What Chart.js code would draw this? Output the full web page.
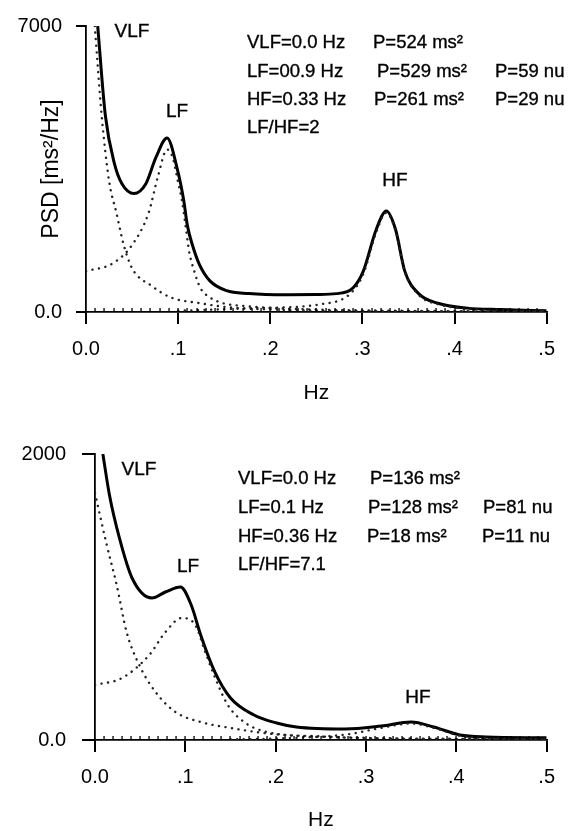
<!DOCTYPE html>
<html>
<head>
<meta charset="utf-8">
<script src="https://cdn.jsdelivr.net/npm/chart.js@4/dist/chart.umd.min.js"></script>
<style>
    body { margin: 0; background: #fff; width: 568px; height: 831px; overflow: hidden; }
    canvas { display: block; }
</style>
</head>
<body>
<canvas id="psdTop" width="568" height="410"></canvas>
<canvas id="psdBottom" width="568" height="421"></canvas>
<script>
// Shared x axis (Hz)
const X_TICKS = [0, 0.1, 0.2, 0.3, 0.4, 0.5];
const X_TICK_LABELS = ['0.0', '.1', '.2', '.3', '.4', '.5'];

// Top spectrum
const topYTicks = [0, 7000];
const topYTickLabels = ['0.0', '7000'];
const topTotalHz = [0.0127, 0.021, 0.031, 0.039, 0.052, 0.065, 0.076, 0.088, 0.0996, 0.106, 0.110, 0.1155, 0.123, 0.1345, 0.1525, 0.177, 0.195, 0.22, 0.25, 0.272, 0.290, 0.301, 0.315, 0.326, 0.336, 0.346, 0.361, 0.382, 0.414, 0.45, 0.5];
const topTotalPsd = [7000, 4810, 3620, 3140, 2900, 3140, 3790, 4260, 3450, 2740, 2120, 1640, 1167, 762, 524, 452, 430, 425, 430, 450, 595, 1000, 2020, 2475, 2020, 1000, 450, 215, 95, 60, 30];
const topVlfHz = [0.0095, 0.017, 0.025, 0.033, 0.041, 0.050, 0.071, 0.092, 0.124, 0.153, 0.2, 0.3, 0.4, 0.5];
const topVlfPsd = [7000, 4810, 3214, 2430, 1640, 1071, 643, 357, 214, 119, 60, 25, 12, 5];
const topLfHz = [0, 0.029, 0.050, 0.068, 0.078, 0.088, 0.094, 0.0996, 0.104, 0.108, 0.112, 0.1175, 0.124, 0.1345, 0.149, 0.17, 0.2, 0.25, 0.3, 0.4, 0.5];
const topLfPsd = [1000, 1190, 1640, 2430, 3310, 3976, 3786, 3214, 2740, 2120, 1476, 1000, 595, 357, 214, 150, 100, 60, 40, 20, 10];
const topHfHz = [0.1, 0.184, 0.255, 0.287, 0.301, 0.315, 0.326, 0.336, 0.346, 0.361, 0.382, 0.414, 0.45, 0.5];
const topHfPsd = [30, 95, 190, 452, 930, 1950, 2430, 1980, 980, 420, 190, 80, 40, 20];

// Bottom spectrum
const botYTicks = [0, 2000];
const botYTickLabels = ['0.0', '2000'];
const botTotalHz = [0.0087, 0.016, 0.027, 0.041, 0.063, 0.078, 0.0946, 0.1065, 0.117, 0.1326, 0.150, 0.176, 0.201, 0.223, 0.277, 0.317, 0.350, 0.375, 0.404, 0.433, 0.5];
const botTotalPsd = [2000, 1713, 1413, 1133, 993, 1035, 1070, 944, 734, 476, 294, 175, 119, 91, 77, 98, 126, 91, 35, 21, 15];
const botVlfHz = [0, 0.013, 0.024, 0.035, 0.049, 0.067, 0.089, 0.117, 0.150, 0.2, 0.3, 0.4, 0.5];
const botVlfPsd = [1727, 1364, 1084, 755, 524, 336, 196, 126, 84, 40, 15, 8, 5];
const botLfHz = [0, 0.030, 0.060, 0.078, 0.096, 0.111, 0.122, 0.133, 0.147, 0.165, 0.190, 0.25, 0.3, 0.4, 0.5];
const botLfPsd = [385, 434, 594, 755, 853, 804, 615, 434, 245, 126, 56, 25, 12, 6, 4];
const botHfHz = [0.15, 0.2, 0.28, 0.317, 0.35, 0.375, 0.404, 0.44, 0.5];
const botHfPsd = [5, 10, 40, 85, 115, 85, 30, 12, 5];

const INK = '#000';
const FONT = 'Liberation Sans, Arial, sans-serif';
const MINOR_STEP = 0.01;

function points(hz, psd) {
    return hz.map((f, i) => ({ x: f, y: psd[i] }));
}

function dotted(hz, psd) {
    return {
        data: points(hz, psd),
        borderColor: '#222',
        borderWidth: 2.4,
        borderDash: [0.1, 6.5],
        borderCapStyle: 'round',
        pointRadius: 0,
        cubicInterpolationMode: 'monotone'
    };
}

function solid(hz, psd) {
    return {
        data: points(hz, psd),
        borderColor: INK,
        borderWidth: 3,
        pointRadius: 0,
        cubicInterpolationMode: 'monotone'
    };
}

// short marks every 0.01 Hz along the x axis
const minorTicks = {
    id: 'minorTicks',
    afterDraw(chart) {
        const x = chart.scales.x;
        const y0 = chart.chartArea.bottom;
        const ctx = chart.ctx;
        ctx.save();
        ctx.fillStyle = INK;
        for (let i = 1; i < 50; i++) {
            const px = x.getPixelForValue(i * MINOR_STEP);
            ctx.fillRect(Math.round(px) - 0.6, y0 - 4, 1.3, 4);
        }
        ctx.restore();
    }
};

// free text: peak names and the results table
const notes = {
    id: 'notes',
    afterDraw(chart, args, opts) {
        const ctx = chart.ctx;
        ctx.save();
        ctx.fillStyle = INK;
        ctx.strokeStyle = INK;
        ctx.lineWidth = 0.35;
        ctx.textBaseline = 'middle';
        opts.items.forEach(it => {
            ctx.font = (it.size || 18.5) + 'px ' + FONT;
            ctx.textAlign = it.align || 'left';
            ctx.fillText(it.text, it.x, it.y);
            ctx.strokeText(it.text, it.x, it.y);
        });
        ctx.restore();
    }
};

function makeChart(id, cfg) {
    const ctx = document.getElementById(id).getContext('2d');
    return new Chart(ctx, {
        type: 'line',
        data: { datasets: cfg.datasets },
        plugins: [minorTicks, notes],
        options: {
            responsive: false,
            animation: false,
            layout: { padding: cfg.padding },
            plugins: {
                legend: { display: false },
                tooltip: { enabled: false },
                notes: { items: cfg.notes }
            },
            scales: {
                x: {
                    type: 'linear',
                    min: 0,
                    max: 0.5,
                    afterBuildTicks: s => { s.ticks = X_TICKS.map(v => ({ value: v })); },
                    afterFit: s => { s.height = cfg.xHeight; },
                    ticks: {
                        padding: 13,
                        maxRotation: 0,
                        color: INK,
                        font: { family: FONT, size: 20 },
                        callback: v => X_TICK_LABELS[X_TICKS.indexOf(v)]
                    },
                    grid: { drawOnChartArea: false, drawTicks: true, tickLength: 12, color: INK, tickColor: INK, tickWidth: 2, lineWidth: 2 },
                    border: { color: INK, width: 1.8 },
                    title: {
                        display: true,
                        text: 'Hz',
                        color: INK,
                        font: { family: FONT, size: 21, lineHeight: 1 },
                        padding: { top: 0, bottom: cfg.hzPad }
                    }
                },
                y: {
                    min: 0,
                    max: cfg.yTicks[cfg.yTicks.length - 1],
                    afterBuildTicks: s => { s.ticks = cfg.yTicks.map(v => ({ value: v })); },
                    afterFit: s => { s.width = cfg.yWidth; },
                    ticks: {
                        padding: cfg.yPad,
                        color: INK,
                        font: { family: FONT, size: 20 },
                        callback: v => cfg.yLabels[cfg.yTicks.indexOf(v)]
                    },
                    grid: { drawOnChartArea: false, drawTicks: true, tickLength: cfg.yTick, color: INK, tickColor: INK, tickWidth: 2, lineWidth: 2 },
                    border: { color: INK, width: 1.8 },
                    title: {
                        display: !!cfg.yTitle,
                        text: cfg.yTitle || '',
                        color: INK,
                        font: { family: FONT, size: 23 },
                        padding: { top: 38, bottom: 0 }
                    }
                }
            }
        }
    });
}

makeChart('psdTop', {
    datasets: [
        dotted(topVlfHz, topVlfPsd),
        dotted(topLfHz, topLfPsd),
        dotted(topHfHz, topHfPsd),
        solid(topTotalHz, topTotalPsd)
    ],
    yTicks: topYTicks,
    yLabels: topYTickLabels,
    yTitle: 'PSD [ms²/Hz]',
    yWidth: 86,
    yTick: 10,
    yPad: 14,
    xHeight: 98,
    hzPad: 6,
    padding: { left: 0, top: 18, right: 10, bottom: 0 },
    notes: [
        { text: 'VLF', x: 132, y: 32, align: 'center', size: 19 },
        { text: 'LF', x: 177, y: 112, align: 'center', size: 19 },
        { text: 'HF', x: 395, y: 181, align: 'center', size: 19 },
        { text: 'VLF=0.0 Hz', x: 247, y: 43 },
        { text: 'P=524 ms²', x: 373, y: 43 },
        { text: 'LF=00.9 Hz', x: 247, y: 72 },
        { text: 'P=529 ms²', x: 377, y: 72 },
        { text: 'P=59 nu', x: 495, y: 72 },
        { text: 'HF=0.33 Hz', x: 247, y: 100 },
        { text: 'P=261 ms²', x: 374, y: 100 },
        { text: 'P=29 nu', x: 495, y: 100 },
        { text: 'LF/HF=2', x: 247, y: 128 }
    ]
});

makeChart('psdBottom', {
    datasets: [
        dotted(botVlfHz, botVlfPsd),
        dotted(botLfHz, botLfPsd),
        dotted(botHfHz, botHfPsd),
        solid(botTotalHz, botTotalPsd)
    ],
    yTicks: botYTicks,
    yLabels: botYTickLabels,
    yTitle: '',
    yWidth: 95,
    yTick: 13,
    yPad: 16,
    xHeight: 91,
    hzPad: 0,
    padding: { left: 0, top: 44, right: 14, bottom: 0 },
    notes: [
        { text: 'VLF', x: 139, y: 60, align: 'center', size: 19 },
        { text: 'LF', x: 188, y: 157, align: 'center', size: 19 },
        { text: 'HF', x: 418, y: 288, align: 'center', size: 19 },
        { text: 'VLF=0.0 Hz', x: 238, y: 69 },
        { text: 'P=136 ms²', x: 370, y: 69 },
        { text: 'LF=0.1 Hz', x: 238, y: 98 },
        { text: 'P=128 ms²', x: 368, y: 98 },
        { text: 'P=81 nu', x: 483, y: 98 },
        { text: 'HF=0.36 Hz', x: 238, y: 127 },
        { text: 'P=18 ms²', x: 367, y: 127 },
        { text: 'P=11 nu', x: 482, y: 127 },
        { text: 'LF/HF=7.1', x: 238, y: 155 }
    ]
});
</script>
</body>
</html>
